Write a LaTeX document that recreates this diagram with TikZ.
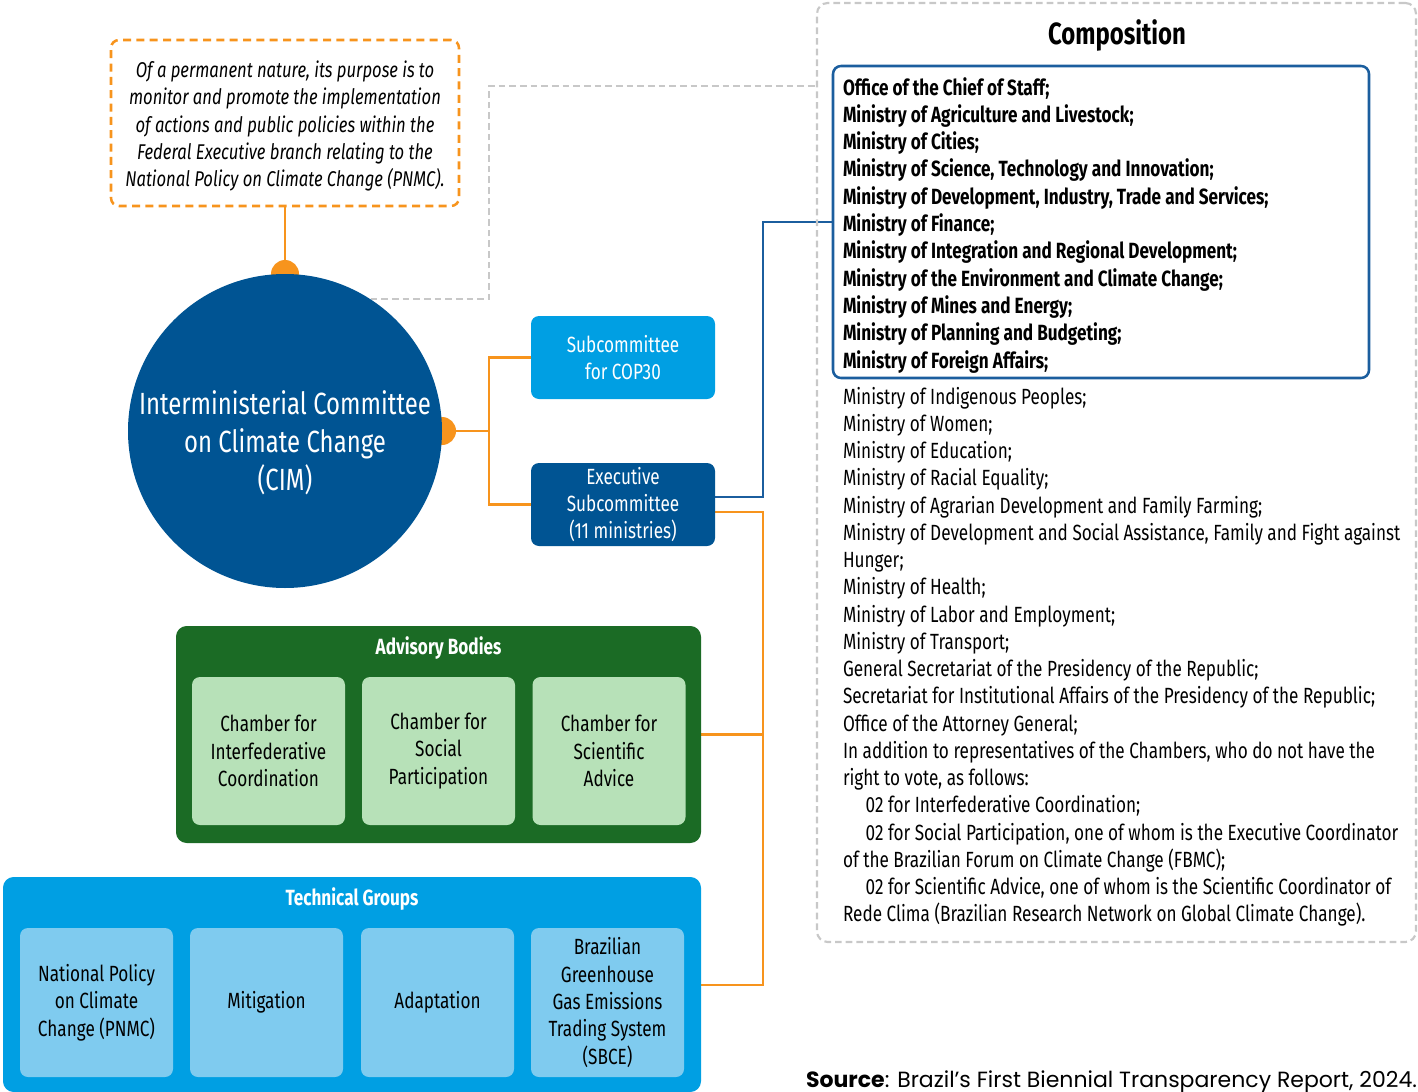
\documentclass[tikz,border=0pt]{standalone}
\usepackage{fontspec}
\setmainfont{Fira Sans}[FakeStretch=0.78]
\newfontfamily\srcfont{Poppins}
\usetikzlibrary{calc,backgrounds}
\definecolor{cimblue}{RGB}{0,84,147}
\definecolor{skyblue}{RGB}{0,159,227}
\definecolor{paleblue}{RGB}{127,203,239}
\definecolor{linkorange}{RGB}{247,148,29}
\definecolor{dashgray}{RGB}{200,200,200}
\definecolor{darkgreen}{RGB}{27,107,37}
\definecolor{palegreen}{RGB}{183,225,184}
\definecolor{framblue}{RGB}{27,94,158}
\newcommand\fsA{\fontsize{16.5pt}{20.6pt}\selectfont}
\newcommand\fsI{\fontsize{16pt}{20.6pt}\selectfont}
\newcommand\fsB{\fontsize{23pt}{28.5pt}\selectfont}
\begin{document}
\begin{tikzpicture}[x=0.75pt,y=-0.75pt,
  every node/.style={inner sep=0pt, outer sep=0pt},
  olink/.style={draw=linkorange, line width=1.9pt},
  blink/.style={draw=framblue, line width=1.6pt},
  glink/.style={draw=dashgray, line width=1.6pt, dash pattern=on 5pt off 3pt},
  subbox/.style={rounded corners=6pt, minimum width=138pt, minimum height=62.25pt, align=center, text=white, font=\fsA},
  chamber/.style={fill=palegreen, rounded corners=6pt, minimum width=114.75pt, minimum height=111pt, align=center, font=\fsA},
  tgroup/.style={fill=paleblue, rounded corners=6pt, minimum width=114.75pt, minimum height=111.75pt, align=center, font=\fsA},
  comptxt/.style={anchor=base west, font=\fsA}
]
\useasboundingbox (0,0) rectangle (1418,1092);

% Composition frame
\node[draw=dashgray, line width=1.6pt, dash pattern=on 5pt off 3pt, rounded corners=8pt,
  minimum width=449.25pt, minimum height=704.25pt] (comp) at (1116.5,472.5) {};
\node[font=\fsB\bfseries] (comptitle) at (1117,35) {Composition};
\node[draw=framblue, line width=1.9pt, rounded corners=6pt,
  minimum width=402pt, minimum height=234pt] (compin) at (1101,222) {};

\foreach \t [count=\i from 0] in {
  {Office of the Chief of Staff;},
  {Ministry of Agriculture and Livestock;},
  {Ministry of Cities;},
  {Ministry of Science, Technology and Innovation;},
  {Ministry of Development, Industry, Trade and Services;},
  {Ministry of Finance;},
  {Ministry of Integration and Regional Development;},
  {Ministry of the Environment and Climate Change;},
  {Ministry of Mines and Energy;},
  {Ministry of Planning and Budgeting;},
  {Ministry of Foreign Affairs;}}
  \node[comptxt, font=\fsA\bfseries] (cb\i) at (843,{95+27.3*\i}) {\t};

\foreach \t [count=\i from 0] in {
  {Ministry of Indigenous Peoples;},
  {Ministry of Women;},
  {Ministry of Education;},
  {Ministry of Racial Equality;},
  {Ministry of Agrarian Development and Family Farming;},
  {Ministry of Development and Social Assistance, Family and Fight against},
  {Hunger;},
  {Ministry of Health;},
  {Ministry of Labor and Employment;},
  {Ministry of Transport;},
  {General Secretariat of the Presidency of the Republic;},
  {Secretariat for Institutional Affairs of the Presidency of the Republic;},
  {Office of the Attorney General;},
  {In addition to representatives of the Chambers, who do not have the},
  {right to vote, as follows:},
  {\hspace*{17pt}02 for Interfederative Coordination;},
  {\hspace*{17pt}02 for Social Participation, one of whom is the Executive Coordinator},
  {of the Brazilian Forum on Climate Change (FBMC);},
  {\hspace*{17pt}02 for Scientific Advice, one of whom is the Scientific Coordinator of},
  {Rede Clima (Brazilian Research Network on Global Climate Change).}}
  \node[comptxt] (cr\i) at (843,{404+27.26*\i}) {\t};

% Purpose note
\node[draw=linkorange, line width=1.9pt, dash pattern=on 6pt off 4pt, rounded corners=6pt,
  minimum width=261pt, minimum height=124.5pt] (note) at (285,123) {};
\node[align=center, font=\fsI\itshape] (notetxt) at (285,126)
  {Of a permanent nature, its purpose is to\\monitor and promote the implementation\\of actions and public policies within the\\Federal Executive branch relating to the\\National Policy on Climate Change (PNMC).};

% CIM circle with dots
\node[circle, fill=linkorange, minimum size=21pt] (dottop) at (285,274) {};
\node[circle, fill=linkorange, minimum size=21pt] (dotright) at (442,431) {};
\node[circle, fill=cimblue, minimum size=235.5pt] (cim) at (285,431) {};
\node[align=center, text=white, font=\fsB] (cimlbl) at (285,443)
  {Interministerial Committee\\on Climate Change\\(CIM)};

% Subcommittees
\node[subbox, fill=skyblue] (cop) at (623,357.5) {Subcommittee\\for COP30};
\node[subbox, fill=cimblue] (exec) at (623,504.5) {Executive\\Subcommittee\\(11 ministries)};

% Advisory bodies
\node[fill=darkgreen, rounded corners=8pt, minimum width=393.75pt, minimum height=162.75pt] (adv) at (438.5,734.5) {};
\node[text=white, font=\fsA\bfseries] (advtitle) at (438.5,648) {Advisory Bodies};
\node[chamber] (ch1) at (268.5,751) {Chamber for\\Interfederative\\Coordination};
\node[chamber] (ch2) at (438.5,751) {Chamber for\\Social\\Participation};
\node[chamber] (ch3) at (609,751) {Chamber for\\Scientific\\Advice};

% Technical groups
\node[fill=skyblue, rounded corners=8pt, minimum width=523.5pt, minimum height=161.25pt] (tech) at (352,984.5) {};
\node[text=white, font=\fsA\bfseries] (techtitle) at (352,899) {Technical Groups};
\node[tgroup] (tg1) at (96.5,1002.5) {National Policy\\on Climate\\Change (PNMC)};
\node[tgroup] (tg2) at (266.5,1002.5) {Mitigation};
\node[tgroup] (tg3) at (437.5,1002.5) {Adaptation};
\node[tgroup] (tg4) at (607.5,1002.5) {Brazilian\\Greenhouse\\Gas Emissions\\Trading System\\(SBCE)};

% Connectors
\coordinate (j1) at (489,431);
\coordinate (g1) at (489,86);
\coordinate (b1) at (763,222);
\coordinate (o1) at (763,985);

\begin{scope}[on background layer]
\draw[olink] (note.south) -- (dottop.center);
\draw[olink] (dotright.center) -- (j1) |- (cop.west);
\draw[olink] (j1) |- (exec.west);
\draw[glink] (cim.57) -| (g1) -- (g1 -| comp.west);
\draw[blink] ([yshift=5.6pt]exec.east) -| (b1) -- (compin.west);
\draw[olink] ([yshift=-5.6pt]exec.east) -| (o1) -- (o1 -| tech.east);
\draw[olink] (adv.east) -- (adv.east -| o1);
\end{scope}

% Source
\node[anchor=base east, font=\srcfont\fontsize{16.5pt}{19pt}\selectfont] (src) at (1417,1087)
  {\textbf{Source}: Brazil’s First Biennial Transparency Report, 2024.};
\end{tikzpicture}
\end{document}
